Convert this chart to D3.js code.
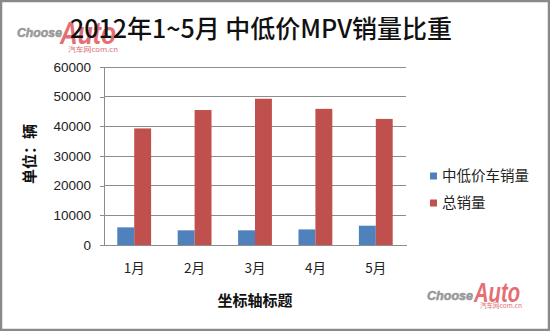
<!DOCTYPE html>
<html><head><meta charset="utf-8">
<script src="https://cdn.jsdelivr.net/npm/d3@7"></script>
<style>
html,body{margin:0;padding:0;background:#fff;}
svg{display:block;}
</style></head>
<body>
<svg id="c" width="550" height="331"></svg>
<script>
const categories = ["1月","2月","3月","4月","5月"];
const seriesNames = ["中低价车销量","总销量"];
const lowPriceSales = [5950, 4950, 4950, 5250, 6500];
const totalSales = [39300, 45500, 49300, 45900, 42500];
const yTicks = [0,10000,20000,30000,40000,50000,60000];
const colors = ["#4f81bd","#c0504d"];

const svg = d3.select("#c");
const W = 550, H = 331;
const cjk = "'Noto Sans CJK SC','Noto Sans',sans-serif";
const latin = "'Liberation Sans',Arial,sans-serif";

// outer frame
svg.append("rect").attr("x",1).attr("y",1).attr("width",W-2).attr("height",H-2)
  .attr("fill","#fff").attr("stroke","#8a8a8a").attr("stroke-width",2.5);

const x0 = d3.scaleBand().domain(categories).range([104,406]).paddingInner(0.44).paddingOuter(0.22);
const x1 = d3.scaleBand().domain(seriesNames).range([0,x0.bandwidth()]);
const y = d3.scaleLinear().domain([0,60000]).range([245,67]);

// gridlines
svg.append("g").selectAll("line").data(yTicks.filter(d=>d>0)).join("line")
  .attr("x1",104).attr("x2",406).attr("y1",d=>y(d)).attr("y2",d=>y(d))
  .attr("stroke","#8c8c8c").attr("stroke-width",1).attr("shape-rendering","crispEdges");

// y axis
const yAxis = d3.axisLeft(y).tickValues(yTicks).tickSize(4).tickPadding(9).tickFormat(d3.format("d"));
const gy = svg.append("g").attr("transform","translate(104,0)").call(yAxis);
gy.select(".domain").attr("stroke","#8c8c8c").attr("shape-rendering","crispEdges");
gy.selectAll(".tick line").attr("stroke","#8c8c8c").attr("shape-rendering","crispEdges");
gy.selectAll("text").attr("font-family",latin).attr("font-size",13.5).attr("fill","#222");

// bars
const data = categories.map((c,i)=>({c, vals:[lowPriceSales[i], totalSales[i]]}));
const groups = svg.append("g").selectAll("g").data(data).join("g")
  .attr("transform",d=>`translate(${x0(d.c)},0)`);
groups.selectAll("rect").data(d=>d.vals.map((v,j)=>({name:seriesNames[j],v,j}))).join("rect")
  .attr("x",d=>x1(d.name)).attr("width",x1.bandwidth())
  .attr("y",d=>y(d.v)).attr("height",d=>y(0)-y(d.v))
  .attr("fill",d=>colors[d.j]);

// x axis
const xAxis = d3.axisBottom(x0).tickSize(0).tickPadding(18);
const gx = svg.append("g").attr("transform","translate(0,245)").call(xAxis);
gx.select(".domain").attr("stroke","#8c8c8c").attr("shape-rendering","crispEdges");
gx.selectAll("text").attr("font-family",cjk).attr("font-size",13.5).attr("fill","#222");

// axis titles
svg.append("text").attr("x",255).attr("y",306).attr("text-anchor","middle")
  .attr("font-family",cjk).attr("font-weight","bold").attr("font-size",15).attr("fill","#111").text("坐标轴标题");
svg.append("text").attr("transform","translate(35,154) rotate(-90)").attr("text-anchor","middle")
  .attr("font-family",cjk).attr("font-weight","bold").attr("font-size",15).attr("fill","#111").text("单位：辆");

// legend
const lg = svg.append("g").selectAll("g").data(seriesNames).join("g")
  .attr("transform",(d,i)=>`translate(430,${176+i*27})`);
lg.append("rect").attr("x",0).attr("y",-3.5).attr("width",7).attr("height",7).attr("fill",(d,i)=>colors[i]);
lg.append("text").attr("x",12).attr("y",0).attr("dy","0.36em")
  .attr("font-family",cjk).attr("font-size",14.5).attr("fill","#222").text(d=>d);

// watermark logos
function logo(o){
  const L = svg.append("g").attr("opacity",0.8);
  L.append("text").attr("x",o.cx).attr("y",o.cy).attr("font-family",latin)
    .attr("font-weight","bold").attr("font-style","italic").attr("font-size",o.cs)
    .attr("textLength",o.cw).attr("lengthAdjust","spacingAndGlyphs")
    .attr("fill","#808080").attr("stroke","#808080").attr("stroke-width",0.6).text("Choose");
  L.append("text").attr("x",o.ax).attr("y",o.ay).attr("font-family",latin)
    .attr("font-weight","bold").attr("font-style","italic").attr("font-size",o.as)
    .attr("textLength",o.aw).attr("lengthAdjust","spacingAndGlyphs")
    .attr("fill","#de4a52").text("Auto");
  L.append("text").attr("x",o.sx).attr("y",o.sy).attr("font-family",cjk)
    .attr("font-size",o.ss).attr("textLength",o.sw).attr("lengthAdjust","spacingAndGlyphs")
    .attr("fill","#d9474f").text("汽车网com.cn");
}
logo({cx:17,cy:37,cs:13,cw:45, ax:60,ay:44,as:31,aw:56, sx:68,sy:52,ss:7,sw:50});

// title
svg.append("text").attr("x",261).attr("y",38).attr("text-anchor","middle")
  .attr("font-family",cjk).attr("font-size",25).attr("font-weight",500).attr("fill","#111")
  .text("2012年1~5月 中低价MPV销量比重");

logo({cx:427,cy:300,cs:12.5,cw:46, ax:474,ay:302,as:27,aw:46, sx:480,sy:308,ss:6.5,sw:42});
</script>
</body></html>
